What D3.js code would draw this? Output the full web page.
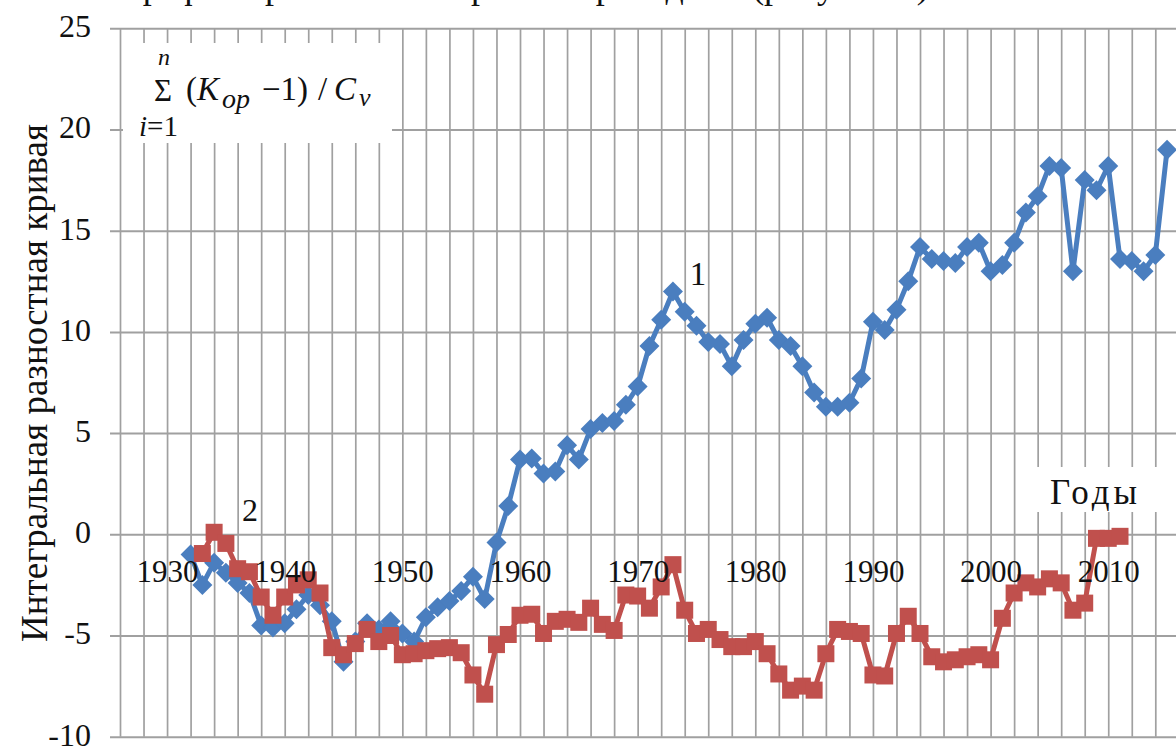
<!DOCTYPE html>
<html>
<head>
<meta charset="utf-8">
<script src="https://cdn.jsdelivr.net/npm/d3@7"></script>
<style>
	html, body { margin: 0; padding: 0; background: #fff; overflow: hidden; }
	svg { display: block; }
	text { font-family: "Liberation Serif", "Times New Roman", serif; fill: #111; }
</style>
</head>
<body>
<div id="chart"></div>
<script>
// curve 1 (blue) starts 1932, curve 2 (red) starts 1933
var blueStart = 1932;
var blueValues = [
	-1.0, -2.5, -1.4, -1.9, -2.4, -2.9, -4.5, -4.6, -4.4, -3.7,
	-3.0, -3.5, -4.3, -6.3, -5.3, -4.4, -4.7, -4.3, -4.9, -5.3,
	-4.1, -3.6, -3.3, -2.8, -2.1, -3.2, -0.4, 1.4, 3.7, 3.75,
	3.0, 3.1, 4.4, 3.7, 5.2, 5.5, 5.6, 6.4, 7.3, 9.3,
	10.6, 12.0, 11.0, 10.3, 9.5, 9.4, 8.3, 9.6, 10.4, 10.7,
	9.6, 9.3, 8.3, 7.0, 6.3, 6.3, 6.5, 7.7, 10.5, 10.1,
	11.1, 12.5, 14.2, 13.6, 13.5, 13.4, 14.2, 14.4, 13.0, 13.3,
	14.4, 15.9, 16.7, 18.2, 18.1, 13.0, 17.5, 17.0, 18.2, 13.6,
	13.5, 13.0, 13.8, 19.0
];

var redStart = 1933;
var redValues = [
	-0.95, 0.1, -0.45, -1.7, -1.85, -3.1, -4.0, -3.1, -2.5, -2.25,
	-2.9, -5.6, -5.95, -5.4, -4.7, -5.3, -5.0, -5.95, -5.9, -5.75,
	-5.65, -5.6, -5.85, -6.95, -7.9, -5.45, -4.95, -4.0, -3.95, -4.9,
	-4.3, -4.2, -4.35, -3.65, -4.45, -4.75, -3.0, -3.05, -3.65, -2.6,
	-1.5, -3.75, -4.9, -4.7, -5.2, -5.55, -5.55, -5.3, -5.9, -6.9,
	-7.7, -7.5, -7.7, -5.9, -4.7, -4.8, -4.9, -6.95, -7.0, -4.9,
	-4.05, -4.9, -6.05, -6.3, -6.2, -6.05, -5.95, -6.2, -4.15, -2.9,
	-2.4, -2.6, -2.2, -2.4, -3.75, -3.4, -0.2, -0.2, -0.1
];

var yearLabels = [1930, 1940, 1950, 1960, 1970, 1980, 1990, 2000, 2010];
var yTicks = [-10, -5, 0, 5, 10, 15, 20, 25];
var gridYears = [1926, 1928, 1930, 1932, 1934, 1936, 1938, 1940, 1942, 1944, 1946, 1948,
	1950, 1952, 1954, 1956, 1958, 1960, 1962, 1964, 1966, 1968, 1970, 1972, 1974,
	1976, 1978, 1980, 1982, 1984, 1986, 1988, 1990, 1992, 1994, 1996, 1998, 2000,
	2002, 2004, 2006, 2008, 2010, 2012, 2014];

var svgWidth = 1176,
	svgHeight = 747,
	plotLeft = 110,
	plotTop = 28.3,
	plotBottom = 736.7;

var blueColor = '#4a7ebf',
	redColor = '#c0504d',
	gridColor = '#a0a0a0';

var svg = d3.select('#chart')
	.append('svg')
	.attr('width', svgWidth)
	.attr('height', svgHeight);

var x = d3.scaleLinear()
	.domain([1926, 2014])
	.range([120, 1155.3]);

var y = d3.scaleLinear()
	.domain([-10, 25])
	.range([plotBottom, plotTop]);

// cut-off line of the document text above the figure
svg.append('text')
	.attr('x', 128)
	.attr('y', -2)
	.attr('font-size', 36)
	.text('графики разностных кривых приведены (рисунок 3)');

// vertical grid, every 2 years
var xGrid = svg.append('g')
	.attr('transform', 'translate(0,' + plotBottom + ')')
	.call(d3.axisBottom(x).tickValues(gridYears).tickSize(-(plotBottom - plotTop)).tickFormat(''));
xGrid.select('.domain').remove();
xGrid.selectAll('line').attr('stroke', gridColor).attr('stroke-width', 1.7);

// horizontal grid + value labels
var yAxis = svg.append('g')
	.attr('transform', 'translate(' + plotLeft + ',0)')
	.call(d3.axisLeft(y).tickValues(yTicks).tickSize(-(svgWidth - plotLeft)).tickPadding(19)
		.tickFormat(function(d) { return String(d); }));
yAxis.select('.domain').remove();
yAxis.selectAll('line').attr('stroke', gridColor).attr('stroke-width', 2);
yAxis.selectAll('text')
	.attr('font-family', '"Liberation Serif", "Times New Roman", serif')
	.attr('font-size', 32)
	.attr('dy', '0.26em')
	.attr('fill', '#111');

// y title
svg.append('text')
	.attr('transform', 'translate(47,383) rotate(-90)')
	.attr('text-anchor', 'middle')
	.attr('font-size', 37)
	.text('Интегральная разностная кривая');

// formula box
svg.append('rect')
	.attr('x', 123).attr('y', 43)
	.attr('width', 269).attr('height', 100)
	.attr('fill', '#fff');

svg.append('text')
	.attr('x', 164).attr('y', 65)
	.attr('text-anchor', 'middle')
	.attr('font-size', 24)
	.attr('font-style', 'italic')
	.text('n');

svg.append('text')
	.attr('x', 163).attr('y', 101)
	.attr('text-anchor', 'middle')
	.attr('font-size', 31)
	.text('Σ');

var formula = svg.append('text')
	.attr('y', 100)
	.attr('font-size', 33);
formula.append('tspan').attr('x', 186).text('(');
formula.append('tspan').attr('x', 197).attr('font-style', 'italic').text('K');
formula.append('tspan').attr('x', 222).attr('font-style', 'italic').attr('font-size', 28).attr('dy', 8).text('op');
formula.append('tspan').attr('x', 262).attr('dy', -8).text('−1)');
formula.append('tspan').attr('x', 318).text('/');
formula.append('tspan').attr('x', 334).attr('font-style', 'italic').text('C');
formula.append('tspan').attr('x', 359).attr('font-style', 'italic').attr('font-size', 26).attr('dy', 6).text('v');

var lower = svg.append('text')
	.attr('x', 139).attr('y', 136)
	.attr('font-size', 29);
lower.append('tspan').attr('font-style', 'italic').text('i');
lower.append('tspan').text('=1');

// "Годы" box
svg.append('rect')
	.attr('x', 1025).attr('y', 467)
	.attr('width', 140).attr('height', 45)
	.attr('fill', '#fff');

svg.append('text')
	.attr('x', 1050).attr('y', 504)
	.attr('font-size', 35)
	.attr('letter-spacing', 4)
	.text('Годы');

// series
var line = d3.line()
	.x(function(d) { return x(d.year); })
	.y(function(d) { return y(d.value); });

var blueData = blueValues.map(function(v, i) { return { year: blueStart + i, value: v }; });
var redData = redValues.map(function(v, i) { return { year: redStart + i, value: v }; });

svg.append('path')
	.datum(blueData)
	.attr('d', line)
	.attr('fill', 'none')
	.attr('stroke', blueColor)
	.attr('stroke-width', 5)
	.attr('stroke-linejoin', 'round');

svg.append('g')
	.selectAll('path')
	.data(blueData)
	.enter()
	.append('path')
	.attr('d', 'M0,-10L10,0L0,10L-10,0Z')
	.attr('transform', function(d) { return 'translate(' + x(d.year) + ',' + y(d.value) + ')'; })
	.attr('fill', blueColor);

svg.append('path')
	.datum(redData)
	.attr('d', line)
	.attr('fill', 'none')
	.attr('stroke', redColor)
	.attr('stroke-width', 5)
	.attr('stroke-linejoin', 'round');

svg.append('g')
	.selectAll('rect')
	.data(redData)
	.enter()
	.append('rect')
	.attr('x', function(d) { return x(d.year) - 8.5; })
	.attr('y', function(d) { return y(d.value) - 8.5; })
	.attr('width', 17)
	.attr('height', 17)
	.attr('fill', redColor);

// year labels sit under the zero line
var xAxis = svg.append('g')
	.attr('transform', 'translate(0,' + y(0) + ')')
	.call(d3.axisBottom(x).tickValues(yearLabels).tickSize(0).tickPadding(26)
		.tickFormat(function(d) { return String(d); }));
xAxis.select('.domain').remove();
xAxis.selectAll('text')
	.attr('font-family', '"Liberation Serif", "Times New Roman", serif')
	.attr('font-size', 31)
	.attr('fill', '#111');

// curve numbers
svg.append('text')
	.attr('x', 698).attr('y', 285)
	.attr('text-anchor', 'middle')
	.attr('font-size', 33)
	.text('1');

svg.append('text')
	.attr('x', 250).attr('y', 521)
	.attr('text-anchor', 'middle')
	.attr('font-size', 32)
	.text('2');
</script>
</body>
</html>
